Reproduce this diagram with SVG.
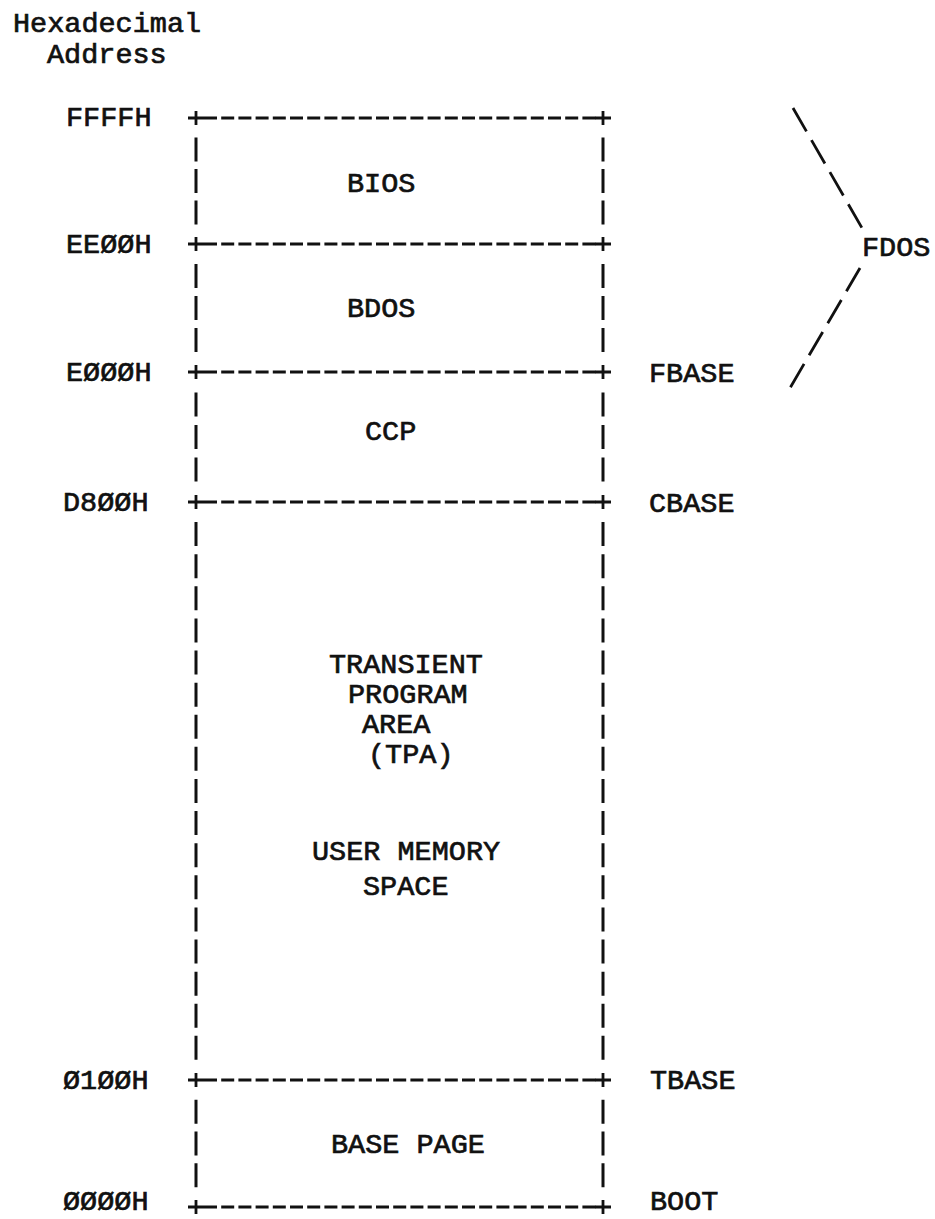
<svg xmlns="http://www.w3.org/2000/svg" width="935" height="1219" viewBox="0 0 935 1219">
<style>
text{font-family:"Liberation Mono","Courier New",monospace;font-size:28.5px;fill:#111;stroke:#111;stroke-width:0.7px}
.h{stroke:#111;stroke-width:3;fill:none;stroke-dasharray:13 4.2}
.v{stroke:#111;stroke-width:3;fill:none}
.p{stroke:#111;stroke-width:2.8;fill:none}
.d{stroke:#111;stroke-width:2.8;fill:none;stroke-dasharray:27 10}
</style>
<defs>
<path id="plus" d="M-8 0H8M0 -7V7" class="p"/>
</defs>
<rect width="935" height="1219" fill="#fff"/>
<g id="heading">
<text x="13" y="32">Hexadecimal</text>
<text x="47" y="63">Address</text>
</g>
<g id="addresses">
<text x="66" y="126">FFFFH</text>
<text x="66" y="253">EEØØH</text>
<text x="66" y="381">EØØØH</text>
<text x="63" y="511">D8ØØH</text>
<text x="63" y="1089">Ø1ØØH</text>
<text x="63" y="1210">ØØØØH</text>
</g>
<g id="connectors">
<g id="boundaries">
<line class="h" x1="204" y1="118" x2="596" y2="118"/>
<line class="h" x1="204" y1="244" x2="596" y2="244"/>
<line class="h" x1="204" y1="372" x2="596" y2="372"/>
<line class="h" x1="204" y1="502" x2="596" y2="502"/>
<line class="h" x1="204" y1="1080" x2="596" y2="1080"/>
<line class="h" x1="204" y1="1207" x2="596" y2="1207"/>
<use href="#plus" x="196" y="118"/><use href="#plus" x="603" y="118"/>
<use href="#plus" x="196" y="244"/><use href="#plus" x="603" y="244"/>
<use href="#plus" x="196" y="372"/><use href="#plus" x="603" y="372"/>
<use href="#plus" x="196" y="502"/><use href="#plus" x="603" y="502"/>
<use href="#plus" x="196" y="1080"/><use href="#plus" x="603" y="1080"/>
<use href="#plus" x="196" y="1207"/><use href="#plus" x="603" y="1207"/>
</g>
<g id="sides">
<line class="v" x1="196" y1="137.5" x2="196" y2="224.5" stroke-dasharray="24 7.5"/>
<line class="v" x1="603" y1="137.5" x2="603" y2="224.5" stroke-dasharray="24 7.5"/>
<line class="v" x1="196" y1="264" x2="196" y2="352" stroke-dasharray="24 8"/>
<line class="v" x1="603" y1="264" x2="603" y2="352" stroke-dasharray="24 8"/>
<line class="v" x1="196" y1="392.5" x2="196" y2="481.5" stroke-dasharray="24 8.5"/>
<line class="v" x1="603" y1="392.5" x2="603" y2="481.5" stroke-dasharray="24 8.5"/>
<line class="v" x1="196" y1="522.1" x2="196" y2="1059.9" stroke-dasharray="24 8.11"/>
<line class="v" x1="603" y1="522.1" x2="603" y2="1059.9" stroke-dasharray="24 8.11"/>
<line class="v" x1="196" y1="1099.75" x2="196" y2="1187.25" stroke-dasharray="24 7.75"/>
<line class="v" x1="603" y1="1099.75" x2="603" y2="1187.25" stroke-dasharray="24 7.75"/>
</g>
<g id="fdos-brace">
<line class="d" x1="793" y1="108" x2="862" y2="228"/>
<line class="d" x1="860" y1="268" x2="790" y2="388"/>
</g>
</g>
<g id="bios"><text x="347" y="192">BIOS</text></g>
<g id="bdos"><text x="347" y="317">BDOS</text></g>
<g id="ccp"><text x="365" y="440">CCP</text></g>
<g id="tpa">
<text x="329" y="673">TRANSIENT</text>
<text x="348" y="703">PROGRAM</text>
<text x="362" y="733">AREA</text>
<text x="368" y="763">(TPA)</text>
<text x="312" y="860">USER MEMORY</text>
<text x="363" y="895">SPACE</text>
</g>
<g id="basepage"><text x="331" y="1153">BASE PAGE</text></g>
<g id="base-labels">
<text x="649" y="382">FBASE</text>
<text x="649" y="512">CBASE</text>
<text x="650" y="1089">TBASE</text>
<text x="650" y="1210">BOOT</text>
</g>
<g id="fdos"><text x="862" y="256">FDOS</text></g>
</svg>
